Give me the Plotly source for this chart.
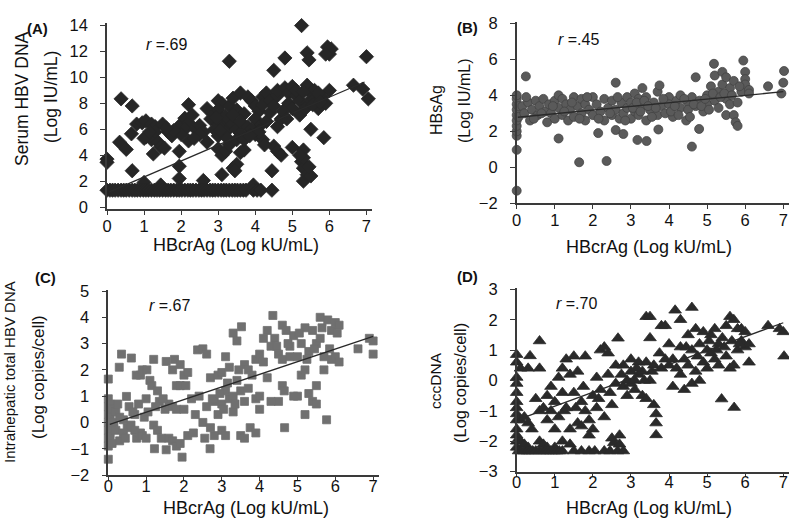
import plotly.graph_objects as go

# ---------------- DATA ----------------
x_ticks = [0, 1, 2, 3, 4, 5, 6, 7]
a_yticks = [0, 2, 4, 6, 8, 10, 12, 14]
b_yticks = [-2, 0, 2, 4, 6, 8]
c_yticks = [-2, -1, 0, 1, 2, 3, 4, 5]
d_yticks = [-3, -2, -1, 0, 1, 2, 3]

# (A) Serum HBV DNA vs HBcrAg  (diamonds)
a_floor_x = [0, 0.08, 0.15, 0.22, 0.3, 0.38, 0.45, 0.52, 0.6, 0.68, 0.75, 0.82, 0.9, 0.98,
             1.05, 1.12, 1.2, 1.28, 1.35, 1.42, 1.5, 1.58, 1.65, 1.72, 1.8, 1.88, 1.95, 2.02,
             2.1, 2.18, 2.25, 2.32, 2.4, 2.48, 2.55, 2.62, 2.7, 2.78, 2.85, 2.92, 3.0, 3.08,
             3.15, 3.22, 3.3, 3.38, 3.45, 3.52, 3.6, 3.68, 3.75, 3.95, 4.05, 4.15, 4.45]
a_floor_y = [1.3] * len(a_floor_x)
a_points = [
    (0, 3.7), (0, 3.45), (0.38, 8.35), (0.68, 7.8), (0.34, 5.0), (0.52, 4.45), (0.66, 5.65), (0.68, 2.8),
    (0.8, 6.4), (0.95, 6.5), (1.05, 6.65), (1.2, 6.4), (1.3, 6.2), (1.05, 5.4), (1.2, 5.2), (1.3, 5.8),
    (1.38, 5.0), (1.45, 4.65), (1.55, 4.55), (1.5, 6.4), (1.0, 5.3), (1.15, 5.8), (1.25, 4.1), (1.0, 1.9),
    (1.45, 1.7), (1.65, 5.8), (1.75, 5.5), (1.9, 6.0), (2.0, 6.4), (2.1, 6.85), (2.2, 6.5), (2.1, 6.0),
    (2.3, 7.1), (2.2, 7.9), (2.4, 6.0), (2.5, 6.3), (2.0, 5.6), (1.95, 4.3), (2.2, 5.1), (1.95, 3.15),
    (1.95, 2.2), (2.7, 7.6), (2.8, 6.8), (2.6, 5.8), (2.9, 7.2), (2.7, 5.0), (2.6, 2.05), (2.5, 5.6),
    (2.35, 5.3), (1.8, 5.9), (1.6, 6.1), (3.0, 8.2), (3.1, 8.0), (3.0, 7.5), (3.1, 6.8), (3.0, 6.4),
    (3.15, 6.2), (3.2, 5.8), (3.3, 6.5), (3.0, 5.5), (2.9, 6.0), (3.0, 4.5), (3.1, 4.0), (3.2, 4.3),
    (3.3, 4.8), (3.1, 2.5), (3.3, 11.25), (3.3, 7.8), (3.4, 8.4), (3.5, 7.5), (3.4, 6.4), (3.5, 6.0),
    (3.6, 5.7), (3.5, 5.2), (3.6, 4.2), (3.4, 3.0), (3.5, 3.3), (3.45, 2.8), (3.7, 4.4), (3.6, 8.8),
    (3.8, 8.5), (3.7, 7.2), (3.2, 7.0), (3.4, 7.1), (3.6, 6.6), (3.8, 6.2), (3.7, 5.2), (3.25, 5.3),
    (2.95, 6.9), (3.05, 5.9), (3.9, 8.2), (4.0, 7.8), (4.1, 7.4), (4.2, 8.5), (4.0, 6.8), (4.1, 6.2),
    (3.9, 6.0), (4.0, 5.6), (4.2, 5.2), (4.3, 6.6), (4.4, 7.3), (4.3, 8.8), (4.5, 10.55), (4.45, 2.8),
    (3.95, 1.7), (4.5, 4.7), (4.6, 4.3), (4.7, 4.0), (4.6, 6.2), (4.7, 6.8), (4.2, 7.9), (4.4, 8.2),
    (4.5, 7.8), (4.6, 8.6), (4.6, 9.0), (4.1, 5.8), (3.85, 5.5), (4.25, 4.8), (4.8, 11.5), (4.8, 9.2),
    (4.9, 8.8), (5.0, 9.3), (5.1, 8.6), (4.9, 8.0), (5.0, 7.6), (5.2, 8.2), (5.2, 7.1), (5.0, 4.6),
    (5.25, 14.0), (5.4, 11.9), (5.45, 11.35), (5.4, 9.4), (5.5, 8.8), (5.4, 8.0), (5.5, 6.0), (5.3, 4.4),
    (5.25, 3.5), (5.3, 3.0), (5.3, 2.0), (5.4, 2.5), (5.5, 2.4), (5.3, 3.8), (5.2, 4.0), (5.6, 8.3),
    (5.7, 7.6), (5.6, 9.0), (5.85, 5.35), (4.75, 7.4), (4.85, 6.8), (5.1, 9.0), (5.3, 8.9), (5.35, 7.6),
    (5.55, 7.9), (5.45, 3.1), (5.95, 12.35), (6.0, 11.8), (6.05, 12.2), (5.9, 11.8), (6.0, 9.0),
    (5.8, 8.5), (5.9, 8.0), (5.7, 8.8), (5.75, 8.1), (6.65, 9.4), (6.9, 9.1), (7.0, 11.6), (7.05, 8.35),
]
a_fit_x = [0.05, 6.95]
a_fit_y = [1.15, 9.65]

# (B) HBsAg vs HBcrAg  (circles)
b_points = [
    (0, 1.75), (0, 2.0), (0, 2.3), (0, 2.6), (0, 2.9), (0, 3.2), (0, 3.5), (0, 3.8), (0, 4.0),
    (0, 0.97), (0, -1.3), (0.05, 2.8), (0.05, 3.4), (0.24, 5.05),
    (0.15, 3.4), (0.2, 3.0), (0.3, 3.6), (0.35, 2.6), (0.4, 3.2), (0.5, 3.7), (0.55, 2.9), (0.6, 3.4),
    (0.7, 3.8), (0.75, 3.1), (0.8, 2.5), (0.85, 3.5), (0.9, 3.0), (1.0, 3.7), (1.0, 2.7), (1.1, 4.0),
    (1.1, 3.3), (1.2, 2.9), (1.2, 3.8), (1.3, 3.5), (1.35, 2.6), (1.4, 3.2), (1.5, 3.9), (1.5, 2.8),
    (1.6, 3.4), (1.7, 3.0), (1.7, 3.8), (1.8, 2.6), (1.8, 3.5), (1.9, 3.2), (2.0, 3.9), (2.0, 2.9),
    (2.1, 3.5), (2.2, 3.1), (2.3, 3.8), (2.3, 2.6), (2.4, 3.3), (2.5, 3.7), (2.5, 2.9), (2.6, 4.7),
    (2.6, 3.2), (2.7, 2.7), (2.75, 3.6), (2.8, 3.0), (2.9, 3.9), (2.9, 3.3), (3.0, 2.7), (3.0, 3.6),
    (3.1, 4.1), (3.1, 3.1), (3.2, 3.8), (3.2, 2.9), (3.3, 4.4), (3.3, 3.4), (3.4, 2.6), (3.4, 3.9),
    (3.5, 3.2), (3.6, 3.6), (3.7, 2.9), (3.7, 4.2), (3.75, 4.55), (3.8, 3.4), (3.9, 3.0), (4.0, 3.9),
    (4.0, 3.5), (4.1, 2.8), (4.2, 3.7), (4.3, 3.3), (4.3, 4.0), (4.45, 2.6), (4.5, 3.6), (4.5, 3.2),
    (4.6, 3.9), (4.7, 3.4), (4.7, 5.0), (4.8, 3.7), (4.9, 3.1), (5.0, 4.0), (5.0, 3.5), (5.1, 4.5),
    (5.18, 5.75), (5.2, 5.1), (5.2, 3.7), (5.3, 4.2), (5.3, 3.3), (5.4, 5.3), (5.4, 4.6), (5.5, 5.0),
    (5.5, 3.8), (5.5, 2.9), (5.6, 4.4), (5.6, 3.5), (5.7, 4.8), (5.7, 2.9), (5.75, 2.5), (5.8, 2.3),
    (5.8, 3.6), (5.9, 4.2), (5.95, 5.93), (6.0, 5.3), (6.0, 4.9), (6.0, 4.6), (6.1, 4.3), (6.1, 4.1),
    (6.6, 4.5), (6.95, 4.1), (7.0, 4.7), (7.02, 5.35),
    (0.25, 3.9), (0.45, 2.7), (0.65, 3.0), (0.95, 3.4), (1.25, 3.1), (1.45, 3.6), (1.65, 2.7),
    (1.85, 3.9), (2.15, 2.7), (2.45, 3.0), (2.65, 3.9), (2.85, 2.6), (3.05, 3.3), (3.15, 3.6),
    (3.25, 3.1), (3.35, 3.7), (3.45, 3.4), (3.55, 2.8), (3.65, 3.3), (3.85, 3.8), (4.05, 3.1),
    (4.15, 3.4), (4.25, 2.9), (4.4, 3.8), (4.55, 2.8), (4.65, 3.5), (4.85, 3.4), (4.95, 3.8),
    (5.05, 3.2), (5.15, 4.1), (5.35, 3.9), (5.45, 4.1), (5.65, 4.0), (5.85, 4.5),
    (1.1, 1.6), (2.14, 1.9), (2.6, 2.07), (2.8, 1.85), (1.64, 0.28), (2.36, 0.35), (3.17, 1.52),
    (3.41, 1.46), (3.72, 2.1), (4.6, 1.15), (4.79, 2.13),
]
b_fit_x = [0.03, 7.0]
b_fit_y = [2.78, 4.2]

# (C) Intrahepatic total HBV DNA vs HBcrAg  (squares)
c_points = [
    (0, 1.65), (0, -1.4), (0, 0.9), (0, 0.6), (0, 0.3), (0, 0.0), (0, -0.3), (0, -0.6), (0, -0.9),
    (0.05, 0.7), (0.05, -0.5), (0.05, 0.2), (0.1, 0.5), (0.1, -0.2), (0.1, -0.8),
    (0.2, 0.4), (0.2, -0.3), (0.25, 0.7), (0.29, 2.1), (0.35, 2.6), (0.3, -0.7), (0.4, 0.1), (0.4, -0.4),
    (0.48, 0.99), (0.5, -0.2), (0.55, 0.6), (0.61, 2.45), (0.6, -0.1), (0.74, 1.8), (0.7, 0.3), (0.7, -0.3),
    (0.75, -0.6), (0.85, 1.8), (0.8, 0.7), (0.85, -0.4), (0.9, 2.0), (0.9, -0.5), (0.95, 0.2), (1.0, 0.9),
    (1.0, -0.6), (1.02, 2.0), (1.2, 2.4), (1.1, 1.6), (1.15, 1.4), (1.2, -0.1), (1.22, -1.0), (1.3, 1.2),
    (1.3, -0.3), (1.35, 0.8), (1.4, -0.6), (1.53, 2.32), (1.53, -1.04), (1.5, 0.5), (1.6, 0.7), (1.6, -0.6),
    (1.7, 2.0), (1.7, 0.6), (1.7, -0.7), (1.75, 2.4), (1.8, 0.5), (1.8, 1.4), (1.8, -0.9), (1.9, 2.2),
    (1.9, 1.4), (1.9, -0.8), (1.95, -1.32), (2.0, 1.8), (2.0, 0.5), (2.05, 1.4), (2.1, 1.9), (2.1, -0.5),
    (2.2, 0.9), (2.25, -0.4), (2.3, 0.3), (2.36, 2.76), (2.5, 2.8), (2.5, 0.0), (2.55, -0.6), (2.6, 2.6),
    (2.6, 0.6), (2.69, -1.0), (2.7, 1.7), (2.7, -0.2), (2.8, 0.8), (2.8, -0.5), (2.9, 1.8), (2.9, 0.3),
    (3.0, 1.9), (3.0, 0.7), (3.0, -0.3), (3.05, 0.5), (3.1, 2.5), (3.1, 1.2), (3.1, -0.5), (3.2, 0.9),
    (3.2, 2.1), (3.3, 3.4), (3.3, 1.0), (3.3, 0.4), (3.4, 3.1), (3.4, 1.6), (3.52, 3.64), (3.5, 1.2),
    (3.5, -0.5), (3.6, 2.2), (3.6, 0.8), (3.6, -0.6), (3.7, 2.0), (3.7, 1.3), (3.75, -0.2), (3.9, -0.4),
    (3.8, 1.8), (3.9, 2.4), (3.9, 0.9), (4.0, 1.0), (4.0, 0.5), (4.0, 2.6), (4.1, 2.3), (4.1, 3.2),
    (4.2, 3.5), (4.2, 1.7), (4.3, 2.9), (4.3, 0.8), (4.35, 4.07), (4.4, 3.2), (4.5, 2.6), (4.5, 0.8),
    (4.6, 3.7), (4.6, 2.4), (4.6, 1.4), (4.65, 1.2), (4.66, -0.2), (4.7, 3.5), (4.8, 2.9), (4.8, 2.5),
    (4.9, 3.3), (4.9, 1.0), (5.0, 2.5), (5.0, 1.0), (5.1, 3.0), (5.1, 1.8), (5.2, 3.6), (5.2, 2.0),
    (5.2, 0.3), (5.3, 2.7), (5.3, 1.1), (5.4, 3.5), (5.4, 0.8), (5.5, 3.0), (5.5, 1.4), (5.5, 0.7),
    (5.6, 4.0), (5.6, 3.2), (5.7, 2.5), (5.7, 2.0), (5.8, 3.9), (5.77, 0.1), (5.9, 3.5), (5.9, 2.4),
    (6.0, 3.8), (6.0, 2.5), (6.1, 3.7), (6.1, 2.3), (6.6, 2.8), (6.9, 3.2), (7.0, 3.1), (7.0, 2.6),
    (0.15, 0.0), (0.3, 0.2), (0.45, -0.6), (0.65, 0.4), (1.05, 0.4), (1.25, 0.6), (1.45, 0.9),
    (2.4, 1.0), (2.75, 0.9), (2.95, 1.1), (3.15, 1.5), (3.35, 0.7), (3.45, 2.0), (4.45, 2.9),
    (4.75, 3.0), (5.05, 3.4), (5.25, 2.4), (5.45, 2.8), (5.65, 3.6), (5.85, 2.8), (6.05, 3.4),
]
c_fit_x = [0.04, 7.0]
c_fit_y = [-0.07, 3.27]

# (D) cccDNA vs HBcrAg  (triangles)
d_floor_x = [0.05, 0.12, 0.2, 0.28, 0.35, 0.42, 0.5, 0.6, 0.68, 0.75, 0.82, 0.9, 0.98, 1.05,
             1.12, 1.2, 1.5, 1.7, 1.9, 2.05, 2.3, 2.45, 2.65, 2.8]
d_floor_y = [-2.32] * len(d_floor_x)
d_points = [
    (0, 0.85), (0, 0.6), (0, 0.1), (0, -0.1), (0, -0.4), (0, -0.7), (0, -0.9), (0, -1.1), (0, -1.3),
    (0, -1.6), (0, -1.8), (0, -2.0), (0, -2.2),
    (0.1, -2.0), (0.2, -2.1), (0.3, -2.2), (0.6, -2.0), (0.7, -2.1), (0.8, -2.2), (1.0, -2.2),
    (1.2, -2.0), (1.4, -2.1), (2.55, -2.05), (2.7, -2.1),
    (0.35, 0.81), (0.6, 1.3), (0.1, 0.4), (0.3, 0.4), (0.6, 0.4),
    (0.1, -1.3), (0.2, -1.2), (0.3, -1.4), (0.4, -1.6), (0.5, -0.6), (0.6, -1.0), (0.7, -0.9),
    (0.8, -0.5), (0.8, -1.3), (0.9, -0.2), (0.9, -1.0), (1.0, -0.7), (1.1, 0.1), (1.1, -1.2),
    (1.2, 0.4), (1.2, -0.4), (1.3, 0.7), (1.3, -0.9), (1.4, 0.2), (1.4, -1.6), (1.5, 0.8), (1.5, -0.4),
    (1.6, -1.4), (1.6, 0.3), (1.7, -0.7), (1.7, -1.5), (1.8, 0.8), (1.8, -1.0), (1.9, -1.8), (1.9, -1.3),
    (2.0, -0.5), (2.0, -1.6), (2.1, -0.9), (2.1, 0.1), (2.2, 1.0), (2.2, -0.3), (2.3, 1.1), (2.3, -1.2),
    (2.4, 0.2), (2.4, 0.9), (2.5, -0.8), (2.5, -1.9), (2.6, -0.1), (2.6, 0.5), (2.66, 1.39), (2.7, -1.8),
    (2.8, -0.2), (2.8, 0.5), (2.9, 0.0), (2.9, -0.5), (3.0, 0.3), (3.0, -0.1), (3.0, 0.7), (3.1, 0.0),
    (3.1, -0.3), (3.2, 0.6), (3.2, 0.2), (3.3, 0.3), (3.3, -0.5), (3.4, 2.1), (3.5, 2.1), (3.4, 0.6),
    (3.4, -0.6), (3.5, 1.4), (3.5, 0.0), (3.6, 0.5), (3.6, -0.8), (3.66, -1.1), (3.66, -1.4), (3.66, -1.79),
    (3.8, 1.8), (3.9, 1.8), (3.8, 0.4), (3.9, 0.7), (4.0, 0.5), (4.0, 1.2), (4.1, -0.2), (4.1, 0.7),
    (4.16, 2.31), (4.3, 2.0), (4.3, 1.1), (4.3, 0.2), (4.4, 0.7), (4.4, -0.3), (4.5, 1.5), (4.5, 0.5),
    (4.6, 2.4), (4.6, 1.0), (4.6, -0.1), (4.7, 1.7), (4.7, 0.3), (4.8, 1.2), (4.8, 0.0), (4.9, 1.6),
    (4.9, 0.6), (5.0, 1.0), (5.0, 0.4), (5.1, 1.5), (5.1, 0.9), (5.2, 1.7), (5.2, 0.7), (5.3, 1.2),
    (5.3, 0.5), (5.38, -0.61), (5.4, 1.4), (5.5, 0.8), (5.5, 1.8), (5.6, 2.1), (5.6, 0.4), (5.7, 2.0),
    (5.7, 0.5), (5.71, -0.89), (5.8, 1.7), (5.8, 1.0), (5.9, 1.7), (5.9, 1.3), (6.0, 1.1), (6.0, 1.6),
    (6.1, 0.6), (6.1, 1.2), (6.6, 1.8), (6.9, 1.7), (7.0, 1.6), (7.02, 0.8),
    (1.0, -1.6), (1.25, -1.0), (1.55, -0.9), (1.75, -0.2), (2.15, -0.6), (2.45, -0.4), (2.75, 0.2),
    (3.15, 0.4), (3.35, 0.0), (3.55, 0.3), (3.75, 0.9), (4.2, 0.4), (4.45, 1.1), (4.75, 0.8),
    (5.05, 1.3), (5.25, 1.0), (5.45, 1.1), (5.65, 1.3), (5.85, 1.2),
]
d_fit_x = [0.07, 7.0]
d_fit_y = [-1.27, 1.9]

# ---------------- FIGURE ----------------
W, H = 789, 520


def px(x):
    return x / W


def py(y):
    return 1 - y / H


TXT = "#111111"
FONT = "Liberation Sans, Arial, Helvetica, sans-serif"

fig = go.Figure()


def add_panel(idx, pts, extra_x, extra_y, symbol, size, color, line_color, fx, fy):
    xs = [p[0] for p in pts] + list(extra_x)
    ys = [p[1] for p in pts] + list(extra_y)
    sfx = "" if idx == 1 else str(idx)
    fig.add_trace(go.Scatter(
        x=xs, y=ys, mode="markers", xaxis="x" + sfx, yaxis="y" + sfx,
        marker=dict(symbol=symbol, size=size, color=color,
                    line=dict(color=line_color, width=0.8)),
        cliponaxis=False, showlegend=False, hoverinfo="skip"))
    fig.add_trace(go.Scatter(
        x=fx, y=fy, mode="lines", xaxis="x" + sfx, yaxis="y" + sfx,
        line=dict(color="#2a2a2a", width=1.3), showlegend=False, hoverinfo="skip"))


add_panel(1, a_points, a_floor_x, a_floor_y, "diamond", 11, "#262626", "#262626", a_fit_x, a_fit_y)
add_panel(2, b_points, [], [], "circle", 9, "#5a5a5a", "#444444", b_fit_x, b_fit_y)
add_panel(3, c_points, [], [], "square", 8, "#707070", "#707070", c_fit_x, c_fit_y)
add_panel(4, d_points, d_floor_x, d_floor_y, "triangle-up", 11, "#2a2a2a", "#2a2a2a", d_fit_x, d_fit_y)


def xaxis(dom, anchor, standoff):
    return dict(domain=dom, range=[0, 7.15], anchor=anchor, tickvals=x_ticks, automargin=False,
                showgrid=False, zeroline=False, showline=True, linecolor="#3a3a3a", linewidth=1.5,
                ticks="outside", ticklen=4, tickcolor="#3a3a3a", tickwidth=1.2,
                ticklabelstandoff=standoff, ticklabeloverflow="allow",
                tickfont=dict(family=FONT, size=16.5, color=TXT))


def yaxis(dom, rng, ticks, anchor):
    return dict(domain=dom, range=rng, anchor=anchor, tickvals=ticks, automargin=False,
                ticktext=[str(t).replace("-", "\u2212") for t in ticks],
                showgrid=False, zeroline=False, showline=True, linecolor="#3a3a3a", linewidth=1.5,
                ticks="outside", ticklen=5, tickcolor="#3a3a3a", tickwidth=1.2,
                ticklabelstandoff=9,
                tickfont=dict(family=FONT, size=16.5, color=TXT))


fig.update_layout(
    width=W, height=H, margin=dict(l=0, r=0, t=0, b=0, autoexpand=False),
    paper_bgcolor="white", plot_bgcolor="white",
    xaxis=xaxis([px(107), px(372)], "y", -3),
    yaxis=yaxis([py(209), py(23)], [-0.15, 14.2], a_yticks, "x"),
    xaxis2=xaxis([px(516.7), 1.0], "y2", -3),
    yaxis2=yaxis([py(203.3), py(21.5)], [-2, 8.1], b_yticks, "x2"),
    xaxis3=xaxis([px(108.3), px(378.8)], "y3", -9),
    yaxis3=yaxis([py(475), py(289.7)], [-2, 5.05], c_yticks, "x3"),
    xaxis4=xaxis([px(516.7), 1.0], "y4", -9),
    yaxis4=yaxis([py(471.7), py(287.8)], [-3, 3.05], d_yticks, "x4"),
)


def note(text, x, y, size, rot=0, bold=False):
    fig.add_annotation(text=text, x=px(x), y=py(y), xref="paper", yref="paper",
                       showarrow=False, textangle=rot, xanchor="center", yanchor="middle",
                       font=dict(family=FONT, size=size, color=TXT,
                                 weight="bold" if bold else "normal"))


# panel letters
note("(A)", 37, 28, 15, bold=True)
note("(B)", 467, 27, 15, bold=True)
note("(C)", 45, 277, 15, bold=True)
note("(D)", 468, 276, 15, bold=True)

# correlation labels
note("<i>r</i> =.69", 166, 44, 16)
note("<i>r</i> =.45", 578, 40, 16)
note("<i>r</i> =.67", 169, 305, 16)
note("<i>r</i> =.70", 576, 303, 16)

# x-axis titles
note("HBcrAg (Log kU/mL)", 236, 245, 18)
note("HBcrAg (Log kU/mL)", 649, 247, 18)
note("HBcrAg (Log kU/mL)", 246, 508, 18)
note("HBcrAg (Log kU/mL)", 649, 508, 18)

# y-axis titles (two lines each)
note("Serum HBV DNA", 22, 99, 17.5, rot=-90)
note("(Log IU/mL)", 51, 97, 17.5, rot=-90)
note("HBsAg", 436, 110, 16, rot=-90)
note("(Log IU/mL)", 465, 101, 16, rot=-90)
note("Intrahepatic total HBV DNA", 9, 372, 15, rot=-90)
note("(Log copies/cell)", 38, 377, 17, rot=-90)
note("cccDNA", 435, 381, 15.5, rot=-90)
note("(Log copies/cell)", 460, 383, 16.5, rot=-90)

fig.write_html("out.html", config={"displayModeBar": False},
               post_script="document.body.style.margin='0';document.body.style.overflow='hidden';")
